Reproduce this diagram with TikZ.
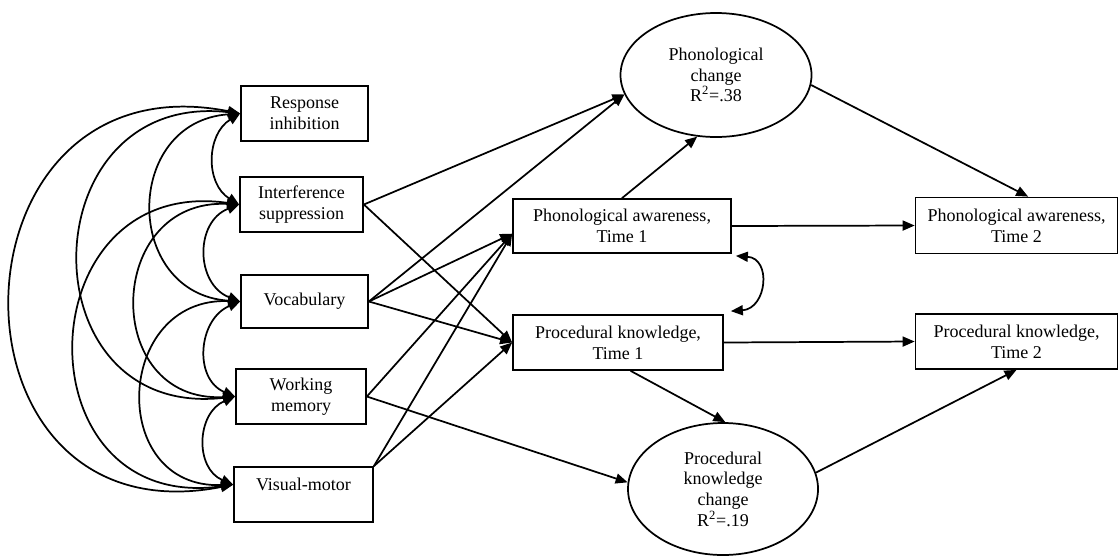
\documentclass[tikz,border=0pt]{standalone}
\usepackage{fontspec}
\setmainfont{Liberation Serif}
\usetikzlibrary{arrows.meta,shapes.geometric,calc}
\tikzset{
  txt/.style={font=\fontsize{13.5}{15.5}\selectfont, align=center, inner sep=0pt},
  box/.style={txt, draw, line width=1.3pt, rectangle},
  oval/.style={txt, draw, line width=1.3pt, ellipse},
  arr/.style={line width=1.3pt, -{Triangle[length=9pt,width=7.5pt]}},
  corr/.style={line width=1.3pt, {Triangle[length=9pt,width=7.5pt]}-{Triangle[length=9pt,width=7.5pt]}},
}
\begin{document}
\begin{tikzpicture}[x=0.75pt,y=0.75pt]
\useasboundingbox (0,0) rectangle (1119,-558);
% left boxes
\node[box, minimum width=95.25pt, minimum height=41.25pt] (ri) at (304.5,-113.5) {Response\\inhibition};
\node[box, minimum width=92.25pt, minimum height=41.25pt] (is) at (301.5,-204.5) {Interference\\suppression};
\node[box, minimum width=95.25pt, minimum height=39.75pt] (voc) at (304.5,-301.5) {Vocabulary};
\node[box, minimum width=97.5pt, minimum height=41.25pt] (wm) at (301,-396.5) {Working\\memory};
\node[box, minimum width=104.25pt, minimum height=41.25pt] (vm) at (303.5,-494.5) {Visual-motor\\~};
% middle boxes
\node[box, minimum width=163.5pt, minimum height=40.5pt] (pa1) at (622,-226) {Phonological awareness,\\Time 1};
\node[box, minimum width=157.5pt, minimum height=41.25pt] (pk1) at (618,-342.5) {Procedural knowledge,\\Time 1};
% right boxes
\node[box, minimum width=151.5pt, minimum height=42pt] (pa2) at (1016.5,-225.5) {Phonological awareness,\\Time 2};
\node[box, minimum width=151.5pt, minimum height=41.25pt] (pk2) at (1016.5,-341.5) {Procedural knowledge,\\Time 2};
% ellipses
\node[oval, minimum width=143.25pt, minimum height=93pt] (pc) at (716,-75) {Phonological\\change\\R\textsuperscript{2}=.38};
\node[oval, minimum width=142.5pt, minimum height=99pt] (pkc) at (723,-489) {Procedural\\knowledge\\change\\R\textsuperscript{2}=.19};
% correlations among predictors
\draw[corr] (ri.west) .. controls +(-34,-20.8) and +(-34,20.8) .. (is.west);
\draw[corr] (ri.west) .. controls +(-117.3,-8) and +(-117.3,8) .. (voc.west);
\draw[corr] (ri.west) .. controls +(-211.3,24) and +(-211.3,-24) .. (wm.west);
\draw[corr] (ri.west) .. controls +(-300.7,59.5) and +(-300.7,-59.5) .. (vm.172);
\draw[corr] (is.west) .. controls +(-44.7,-17.2) and +(-44.7,17.2) .. (voc.west);
\draw[corr] (is.west) .. controls +(-134.7,6.8) and +(-134.7,-6.8) .. (wm.west);
\draw[corr] (is.west) .. controls +(-214.7,30.5) and +(-214.7,-30.5) .. (vm.172);
\draw[corr] (voc.west) .. controls +(-42,-17.5) and +(-42,17.5) .. (wm.west);
\draw[corr] (voc.west) .. controls +(-126,4.7) and +(-126,-4.7) .. (vm.172);
\draw[corr] (wm.west) .. controls +(-38.7,-16.4) and +(-38.7,16.4) .. (vm.172);
% correlation between time-1 measures
\draw[corr] ($(pa1.south east)+(4,-2)$) .. controls +(36,-2.6) and +(36,2.6) .. ($(pk1.north east)+(7,3)$);
% paths
\draw[arr] (is.east) -- (pc.192);
\draw[arr] (voc.east) -- (pc.192);
\draw[arr] (is.east) -- (pk1.west);
\draw[arr] (voc.east) -- (pa1.184);
\draw[arr] (voc.east) -- (pk1.west);
\draw[arr] (wm.east) -- (pa1.184);
\draw[arr] (wm.east) -- (pkc.176);
\draw[arr] (vm.north east) -- (pa1.184);
\draw[arr] (vm.north east) -- (pk1.west);
\draw[arr] (pa1.north) -- (pc.253);
\draw[arr] (pa1.east) -- (pa2.west);
\draw[arr] (pk1.east) -- (pk2.west);
\draw[arr] (pc.354) -- (pa2.68);
\draw[arr] (pk1.294) -- (pkc.88);
\draw[arr] (pkc.10) -- (pk2.south);
\end{tikzpicture}
\end{document}
